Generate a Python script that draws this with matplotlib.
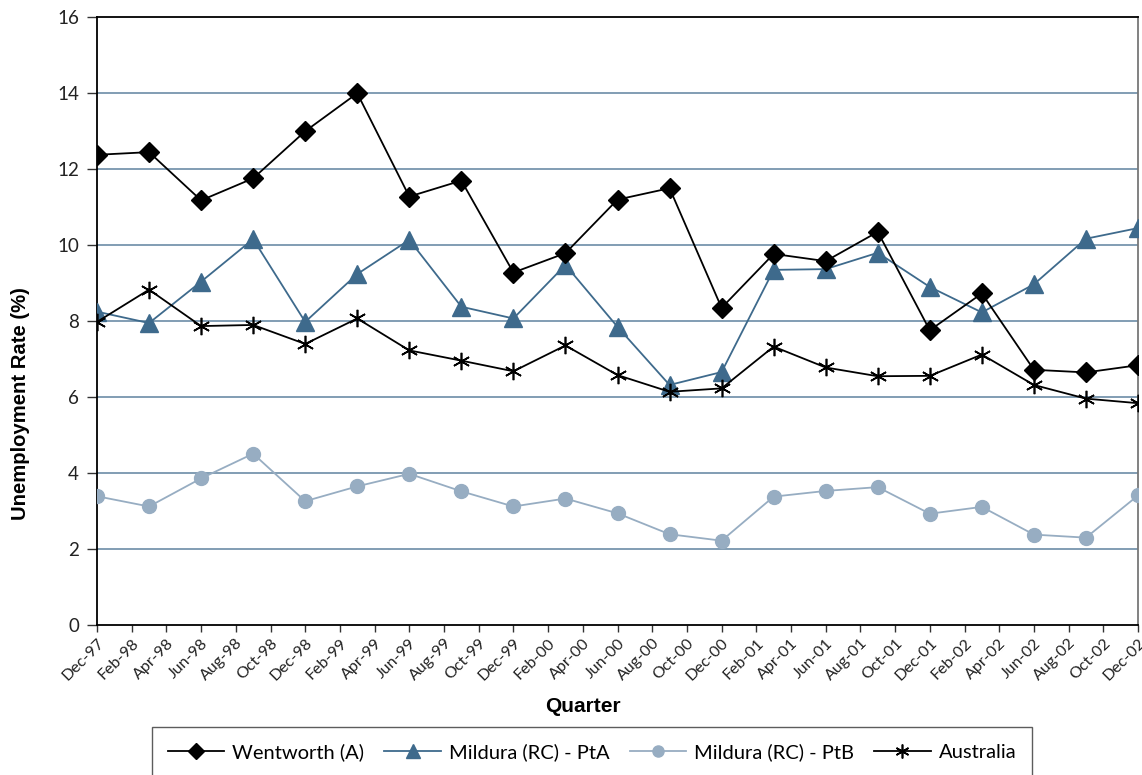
import matplotlib
matplotlib.use("Agg")
import matplotlib.pyplot as plt

# ---- data ----
tick_labels = ["Dec-97", "Feb-98", "Apr-98", "Jun-98", "Aug-98", "Oct-98", "Dec-98",
               "Feb-99", "Apr-99", "Jun-99", "Aug-99", "Oct-99", "Dec-99",
               "Feb-00", "Apr-00", "Jun-00", "Aug-00", "Oct-00", "Dec-00",
               "Feb-01", "Apr-01", "Jun-01", "Aug-01", "Oct-01", "Dec-01",
               "Feb-02", "Apr-02", "Jun-02", "Aug-02", "Oct-02", "Dec-02"]
# quarter positions in months since Dec-97
quarters = [0, 3, 6, 9, 12, 15, 18, 21, 24, 27, 30, 33, 36, 39, 42, 45, 48, 51, 54, 57, 60]

wentworth = [12.38, 12.45, 11.18, 11.76, 13.0, 14.0, 11.28, 11.7, 9.28, 9.79, 11.2,
             11.5, 8.35, 9.77, 9.58, 10.35, 7.76, 8.73, 6.72, 6.65, 6.84]
mildura_a = [8.25, 7.95, 9.04, 10.16, 7.98, 9.24, 10.14, 8.38, 8.07, 9.48, 7.85,
             6.32, 6.66, 9.35, 9.37, 9.8, 8.9, 8.23, 8.97, 10.17, 10.45]
mildura_b = [3.39, 3.12, 3.86, 4.51, 3.26, 3.65, 3.98, 3.52, 3.12, 3.33, 2.94,
             2.39, 2.22, 3.38, 3.53, 3.63, 2.93, 3.11, 2.38, 2.3, 3.41]
australia = [7.98, 8.83, 7.87, 7.9, 7.4, 8.07, 7.23, 6.96, 6.68, 7.36, 6.58,
             6.14, 6.23, 7.33, 6.78, 6.55, 6.56, 7.12, 6.32, 5.96, 5.84]

series_names = ["Wentworth (A)", "Mildura (RC) - PtA", "Mildura (RC) - PtB", "Australia"]

plt.rcParams['font.family'] = ['Lato', 'DejaVu Sans']

W, H = 1142, 775
fig = plt.figure(figsize=(W / 100, H / 100), dpi=100)
ax = fig.add_axes([97 / W, 1 - 625 / H, (1138 - 97) / W, (625 - 17.3) / H])

blue = '#3E6A8C'
light = '#97ADC2'
grid_c = '#7795AE'

for yv in range(2, 16, 2):
    ax.axhline(yv, color=grid_c, lw=1.3, zorder=0)

ax.plot(quarters, wentworth, color='black', lw=1.3, marker='D', ms=10.5,
        markerfacecolor='black', markeredgecolor='black', zorder=4, label=series_names[0])
ax.plot(quarters, mildura_a, color=blue, lw=1.3, marker='^', ms=12.5,
        markerfacecolor=blue, markeredgecolor=blue, zorder=3, label=series_names[1])
ax.plot(quarters, mildura_b, color=light, lw=1.3, marker='o', ms=10,
        markerfacecolor=light, markeredgecolor=light, zorder=3, label=series_names[2])
ax.plot(quarters, australia, color='black', lw=1.3, marker=(6, 2, 0), ms=12.5,
        markeredgewidth=1.2, markeredgecolor='black', zorder=5, label=series_names[3])

ax.set_xlim(0, 60)
ax.set_ylim(0, 16)
ax.set_xticks(range(0, 61, 2))
ax.set_xticklabels(tick_labels, rotation=45, ha='right', rotation_mode='anchor',
                   fontsize=11.5, color='#222222')
ax.set_yticks(range(0, 17, 2))
ax.set_yticklabels([str(v) for v in range(0, 17, 2)], fontsize=13.5, color='#222222')
ax.tick_params(axis='x', length=5, width=1, color='#333333', pad=3)
ax.tick_params(axis='y', length=7, width=1, color='#333333', pad=6)

for s in ['left', 'bottom', 'top']:
    ax.spines[s].set_color('black')
    ax.spines[s].set_linewidth(1.3)
ax.spines['right'].set_color('#777777')
ax.spines['right'].set_linewidth(1.3)

lab_font = ['Liberation Sans', 'DejaVu Sans']
fig.text(21 / W, 1 - 404 / H, "Unemployment Rate (%)", fontsize=14.6, fontweight='bold',
         rotation=90, ha='center', va='center', family=lab_font)
fig.text(583 / W, 1 - 706 / H, "Quarter", fontsize=15, fontweight='bold',
         ha='center', va='center', family=lab_font)

handles, labels = ax.get_legend_handles_labels()
leg = fig.legend(handles, labels, loc='center', bbox_to_anchor=(592 / W, 1 - 752 / H),
                 ncol=4, frameon=True, fontsize=14.5, fancybox=False,
                 edgecolor='#333333', handlelength=2.8, columnspacing=1.0,
                 handletextpad=0.4, borderpad=0.8, borderaxespad=0, markerscale=0.8)
leg.get_frame().set_linewidth(1.0)

fig.savefig("out.png", dpi=100)
